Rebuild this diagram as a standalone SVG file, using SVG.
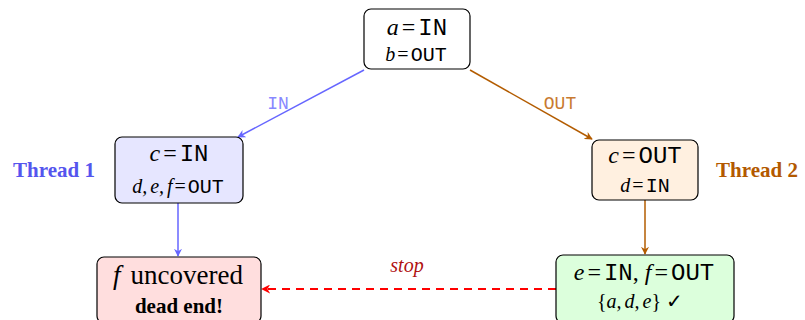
<svg xmlns="http://www.w3.org/2000/svg" width="805" height="320" viewBox="0 0 805 320">
  <defs>
    <style>
      .box { stroke: #000; stroke-width: 1.2; }
      .m { font-family: "Liberation Serif", "DejaVu Serif", serif; font-style: italic; }
      .r { font-family: "Liberation Serif", "DejaVu Serif", serif; }
      .tt { font-family: "Liberation Mono", "DejaVu Sans Mono", monospace; font-style: normal; }
      .big { font-size: 24px; }
      .small { font-size: 20px; }
      .lbl { font-family: "Liberation Serif", "DejaVu Serif", serif; font-weight: bold; font-size: 21px; }
    </style>
    <marker id="ahBlue" viewBox="0 0 10 10" refX="9" refY="5" markerWidth="8" markerHeight="8" markerUnits="userSpaceOnUse" orient="auto">
      <path d="M0,0 L10,5 L0,10 L3,5 z" fill="#6666ff"/>
    </marker>
    <marker id="ahBrown" viewBox="0 0 10 10" refX="9" refY="5" markerWidth="8" markerHeight="8" markerUnits="userSpaceOnUse" orient="auto">
      <path d="M0,0 L10,5 L0,10 L3,5 z" fill="#b35c00"/>
    </marker>
    <marker id="ahRed" viewBox="0 0 10 10" refX="9" refY="5" markerWidth="9" markerHeight="9" markerUnits="userSpaceOnUse" orient="auto">
      <path d="M0,0 L10,5 L0,10 L3,5 z" fill="#ff0000"/>
    </marker>
  </defs>

  <g id="connectors">
    <line x1="364" y1="70" x2="238" y2="137" stroke="#6666ff" stroke-width="1.5" marker-end="url(#ahBlue)"/>
    <text x="278" y="109" text-anchor="middle" class="tt" font-size="18" fill="#8888ff">IN</text>
    <line x1="470" y1="70" x2="592" y2="139" stroke="#b35c00" stroke-width="1.5" marker-end="url(#ahBrown)"/>
    <text x="560" y="109" text-anchor="middle" class="tt" font-size="18" fill="#c87a30">OUT</text>
    <line x1="178" y1="203" x2="178" y2="256" stroke="#6666ff" stroke-width="1.5" marker-end="url(#ahBlue)"/>
    <line x1="645" y1="200" x2="645" y2="254" stroke="#b35c00" stroke-width="1.5" marker-end="url(#ahBrown)"/>
    <line x1="556" y1="289" x2="262" y2="289" stroke="#ff0000" stroke-width="2" stroke-dasharray="8,6" marker-end="url(#ahRed)"/>
    <text x="407" y="272" text-anchor="middle" class="m" font-size="20" fill="#b01010">stop</text>
  </g>

  <g id="root">
    <rect class="box" x="364" y="9" width="106" height="60" rx="7" fill="#ffffff"/>
    <text x="417" y="35" text-anchor="middle" class="big"><tspan class="m">a</tspan><tspan class="r" dx="3">=</tspan><tspan class="tt" dx="3">IN</tspan></text>
    <text x="416" y="61" text-anchor="middle" class="small"><tspan class="m">b</tspan><tspan class="r" dx="2">=</tspan><tspan class="tt" dx="2">OUT</tspan></text>
  </g>

  <g id="thread1">
    <rect class="box" x="115" y="137" width="128" height="66" rx="7" fill="#e6e6ff"/>
    <text x="179" y="161" text-anchor="middle" class="big"><tspan class="m">c</tspan><tspan class="r" dx="3">=</tspan><tspan class="tt" dx="3">IN</tspan></text>
    <text x="178" y="193" text-anchor="middle" class="small"><tspan class="m">d,</tspan><tspan class="m" dx="3">e,</tspan><tspan class="m" dx="3">f</tspan><tspan class="r" dx="2">=</tspan><tspan class="tt" dx="2">OUT</tspan></text>
  </g>

  <g id="thread2">
    <rect class="box" x="592" y="140" width="106" height="60" rx="7" fill="#fff0e0"/>
    <text x="645" y="163" text-anchor="middle" class="big"><tspan class="m">c</tspan><tspan class="r" dx="3">=</tspan><tspan class="tt" dx="3">OUT</tspan></text>
    <text x="645" y="192" text-anchor="middle" class="small"><tspan class="m">d</tspan><tspan class="r" dx="2">=</tspan><tspan class="tt" dx="2">IN</tspan></text>
  </g>

  <g id="deadend">
    <rect class="box" x="97" y="257" width="164" height="66" rx="7" fill="#ffdede"/>
    <text x="178" y="284" text-anchor="middle" font-size="27"><tspan class="m">f</tspan><tspan class="r" dx="10">uncovered</tspan></text>
    <text x="179" y="313" text-anchor="middle" class="r" font-size="21" font-weight="bold">dead end!</text>
  </g>

  <g id="covered">
    <rect class="box" x="556" y="255" width="178" height="68" rx="7" fill="#dcffdc"/>
    <text x="644" y="280" text-anchor="middle" class="big"><tspan class="m">e</tspan><tspan class="r" dx="3">=</tspan><tspan class="tt" dx="3">IN</tspan><tspan class="r">,</tspan><tspan class="m" dx="6">f</tspan><tspan class="r" dx="3">=</tspan><tspan class="tt" dx="3">OUT</tspan></text>
    <text x="640" y="308" text-anchor="middle" class="small"><tspan class="r">{</tspan><tspan class="m">a,</tspan><tspan class="m" dx="3">d,</tspan><tspan class="m" dx="3">e</tspan><tspan class="r">}</tspan><tspan class="r" dx="5">✓</tspan></text>
  </g>

  <g id="labels">
    <text x="54" y="177" text-anchor="middle" class="lbl" fill="#5555ee">Thread 1</text>
    <text x="757" y="177" text-anchor="middle" class="lbl" fill="#b35900">Thread 2</text>
  </g>
</svg>
